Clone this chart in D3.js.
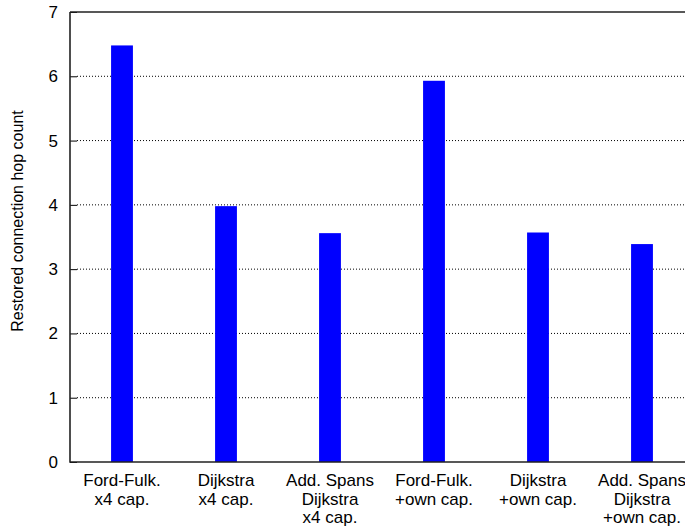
<!DOCTYPE html>
<html><head><meta charset="utf-8">
<script src="https://cdn.jsdelivr.net/npm/d3@7"></script>
<style>body{margin:0;background:#fff}text{font-family:"Liberation Sans",Arial,sans-serif;fill:#000}</style>
</head><body>
<svg id="c" width="685" height="529"></svg>
<script>
const categories = [
  ["Ford-Fulk.", "x4 cap."],
  ["Dijkstra", "x4 cap."],
  ["Add. Spans", "Dijkstra", "x4 cap."],
  ["Ford-Fulk.", "+own cap."],
  ["Dijkstra", "+own cap."],
  ["Add. Spans", "Dijkstra", "+own cap."]
];
const values = [6.48, 3.98, 3.56, 5.93, 3.57, 3.39];
const yTicks = [0, 1, 2, 3, 4, 5, 6, 7];
const yLabel = "Restored connection hop count";

const svg = d3.select("#c");
const L = 70, R = 694, T = 12, B = 462;
const x = d3.scaleBand().domain(d3.range(categories.length)).range([L, R]).paddingInner(0).paddingOuter(0);
const y = d3.scaleLinear().domain([0, 7]).range([B, T]);
const bw = x.bandwidth() * 0.21;

// grid
svg.append("g").selectAll("line").data(yTicks.filter(d => d > 0 && d < 7)).join("line")
  .attr("x1", L + 7).attr("x2", 685).attr("y1", d => y(d)).attr("y2", d => y(d))
  .attr("stroke", "#000").attr("stroke-width", 1).attr("stroke-dasharray", "1,2");

// bars
svg.append("g").selectAll("rect").data(values).join("rect")
  .attr("x", (d, i) => x(i) + x.bandwidth() / 2 - bw / 2)
  .attr("width", bw)
  .attr("y", d => y(d)).attr("height", d => B - y(d))
  .attr("fill", "#0000ff");

// y axis
const yAxis = d3.axisLeft(y).tickValues(yTicks).tickSize(-7).tickPadding(12).tickFormat(d3.format("d"));
const ga = svg.append("g").attr("transform", `translate(${L},0)`).call(yAxis);
ga.select(".domain").remove();
ga.selectAll("line").attr("stroke", "#000");
ga.selectAll("text").attr("font-size", 17).style("font-family", '"Liberation Sans",Arial,sans-serif');

// border
svg.append("path").attr("d", `M${L},${T}H685M${L},${T}V${B}H685`)
  .attr("fill", "none").attr("stroke", "#222").attr("stroke-width", 1.6);

// x labels
const xl = svg.append("g").selectAll("text").data(categories).join("text")
  .attr("text-anchor", "middle").attr("font-size", 17)
  .attr("transform", (d, i) => `translate(${x(i) + x.bandwidth() / 2},486)`);
xl.selectAll("tspan").data(d => d).join("tspan")
  .attr("x", 0).attr("dy", (d, i) => i === 0 ? 0 : 18.7).text(d => d);

// y label
svg.append("text").attr("transform", `translate(23,221) rotate(-90)`)
  .attr("text-anchor", "middle").attr("font-size", 16).text(yLabel);
</script>
</body></html>
